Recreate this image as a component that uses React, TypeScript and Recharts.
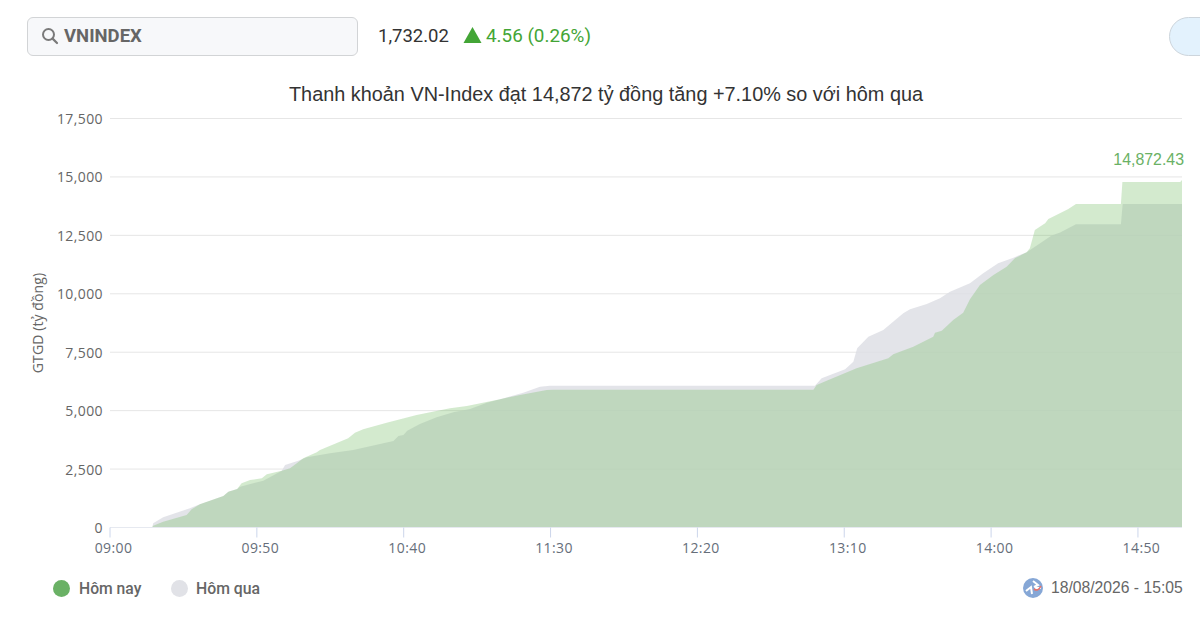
import React from "react";
import { ComposedChart, Area, XAxis, YAxis, CartesianGrid, ReferenceDot } from "recharts";

// minutes after 09:00
const todayMinutes = [14.5,18.1,26.1,27.8,30.6,38.6,40.3,43.3,44.8,47.7,51.7,53.4,58.5,61.3,63.6,65.8,70.4,71.5,81.1,83.4,86.2,94.2,104.4,109,115.8,121.5,132.8,139.6,148.7,151,239.5,240.6,244,254.2,265,266.7,273.5,280.3,280.9,283.2,287.1,290.5,292.8,296.2,300.8,305.3,308.1,312.1,313.2,314.9,318.4,319.5,326.3,328.9,344.2,344.7,364.4,365];
const todayValues = [64,248,535,779,993,1348,1532,1648,1892,2033,2106,2277,2431,2534,2748,2962,3219,3317,3818,4057,4203,4485,4815,4931,5102,5200,5487,5671,5885,5898,5898,6099,6283,6814,7242,7413,7738,8166,8337,8423,8881,9193,9767,10379,10807,11162,11522,11779,11950,12733,13020,13204,13632,13846,13846,14787,14787,14872.43];
const yesterdayMinutes = [14.5,14.7,18.1,27.2,30.6,38.6,40.3,43.3,44.3,52.2,58.5,59.6,64.1,67,74.9,82.8,96.5,98.2,99.9,101.2,105.5,111.2,116.9,122.6,128.3,132.8,140.7,146.4,149.8,240,242.3,250.3,253.1,254.4,258.2,263.3,270.1,272.4,278.1,282.6,286,292.8,297.3,302.4,307.6,312.1,316.7,320.6,323.5,328.9,344.2,344.8,365];
const yesterdayValues = [64,180,437,822,993,1348,1532,1648,1746,2003,2431,2675,2859,3005,3176,3317,3702,3916,3959,4143,4430,4717,4931,5072,5341,5487,5769,6026,6069,6069,6386,6771,7096,7670,8166,8453,9168,9339,9566,9810,10092,10452,10880,11308,11547,11779,12164,12489,12617,12977,12977,13846,13846];

const xTicks = [0,50,100,150,200,250,300,350];
const xTickLabels = ["09:00","09:50","10:40","11:30","12:20","13:10","14:00","14:50"];
const yTicks = [0,2500,5000,7500,10000,12500,15000,17500];

const title = "Thanh khoản VN-Index đạt 14,872 tỷ đồng tăng +7.10% so với hôm qua";
const lastLabel = "14,872.43";

const today = todayMinutes.map((t, i) => ({ t, v: todayValues[i] }));
const yesterday = yesterdayMinutes.map((t, i) => ({ t, v: yesterdayValues[i] }));

const GREEN = "#6ab165";
const helv = "'Liberation Sans', Arial, sans-serif";
const tickFont = "'Open Sans', sans-serif";
const abs = (s: React.CSSProperties): React.CSSProperties => ({ position: "absolute", whiteSpace: "nowrap", ...s });

export default function App() {
  return (
    <div style={{ position: "absolute", left: 0, top: 0, width: 1200, height: 620, background: "#fff", overflow: "hidden" }}>
      <div style={abs({ left: 27, top: 17, width: 329, height: 37, background: "#f7f8fa", border: "1px solid #d2d4d6", borderRadius: 6 })} />
      <svg style={abs({ left: 41, top: 27 })} width={18} height={18} viewBox="0 0 18 18">
        <circle cx={7.5} cy={7.5} r={5.5} fill="none" stroke="#7a7a7a" strokeWidth={2} />
        <line x1={11.6} y1={11.6} x2={16} y2={16} stroke="#7a7a7a" strokeWidth={2.2} strokeLinecap="round" />
      </svg>
      <div style={abs({ left: 64, top: 24, fontFamily: "Roboto, sans-serif", fontWeight: 700, fontSize: 18.5, lineHeight: "24px", color: "#666" })}>VNINDEX</div>
      <div style={abs({ left: 378, top: 24, fontFamily: "Roboto, sans-serif", fontSize: 18.5, lineHeight: "24px", color: "#333" })}>1,732.02</div>
      <svg style={abs({ left: 463, top: 27 })} width={19} height={16} viewBox="0 0 19 16">
        <polygon points="9.5,0 18.5,16 0.5,16" fill="#43a536" />
      </svg>
      <div style={abs({ left: 486, top: 24, fontFamily: "Roboto, sans-serif", fontSize: 18.85, lineHeight: "24px", color: "#43a536" })}>4.56 (0.26%)</div>
      <div style={abs({ left: 1169, top: 17, width: 80, height: 37, background: "#e3f2fd", border: "1px solid #cdd5dc", borderRadius: 20 })} />
      <div style={abs({ left: 0, width: 1212, top: 82, textAlign: "center", fontFamily: helv, fontSize: 19.87, lineHeight: "24px", color: "#333" })}>{title}</div>

      <div style={abs({ left: 0, top: 0 })}>
        <ComposedChart width={1200} height={620} margin={{ top: 118.5, right: 18, bottom: 0, left: 0 }}>
          <CartesianGrid vertical={false} stroke="#e6e6e6" strokeWidth={1} />
          <XAxis
            dataKey="t"
            type="number"
            scale="linear"
            domain={[0, 365]}
            ticks={xTicks}
            interval={0}
            height={92.5}
            tickFormatter={(v: number) => xTickLabels[xTicks.indexOf(v)]}
            stroke="#e6e9f0"
            tickLine={{ stroke: "#ccd6eb" }}
            tickSize={10}
            tickMargin={6}
            tick={{ fontFamily: tickFont, fontSize: 14, fill: "#666e7a", letterSpacing: 0.4, dx: 3.5 }}
            allowDuplicatedCategory={false}
          />
          <YAxis
            type="number"
            width={110}
            domain={[0, 17500]}
            ticks={yTicks}
            interval={0}
            axisLine={false}
            tickLine={false}
            tickMargin={1}
            tickFormatter={(v: number) => v.toLocaleString("en-US")}
            tick={{ fontFamily: tickFont, fontSize: 14, fill: "#666", letterSpacing: 0.4, dy: 0.5 }}
            label={{ value: "GTGD (tỷ đồng)", angle: -90, position: "insideLeft", offset: 38, style: { fontFamily: tickFont, fontSize: 14, fill: "#666", textAnchor: "middle", letterSpacing: 0.1 } }}
          />
          <Area data={yesterday} dataKey="v" name="Hôm qua" type="linear" stroke="none" fill="#dcdde3" fillOpacity={0.8} isAnimationActive={false} dot={false} activeDot={false} />
          <Area data={today} dataKey="v" name="Hôm nay" type="linear" stroke="none" fill="#6eb95d" fillOpacity={0.3} isAnimationActive={false} dot={false} activeDot={false} />
          <ReferenceDot
            x={todayMinutes[todayMinutes.length - 1]}
            y={todayValues[todayValues.length - 1]}
            r={0}
            stroke="none"
            fill="none"
            label={(p: any) => (
              <text x={p.viewBox.x + 2} y={p.viewBox.y - 15} textAnchor="end" fontFamily={helv} fontSize={15.9} fill={GREEN}>{lastLabel}</text>
            )}
          />
        </ComposedChart>
      </div>

      <div style={abs({ left: 53, top: 580, width: 17, height: 17, borderRadius: "50%", background: GREEN })} />
      <div style={abs({ left: 79, top: 579, fontFamily: "Roboto, sans-serif", fontWeight: 500, fontSize: 15.7, lineHeight: "20px", color: "#666" })}>Hôm nay</div>
      <div style={abs({ left: 171, top: 580, width: 17, height: 17, borderRadius: "50%", background: "#e1e2e7" })} />
      <div style={abs({ left: 196, top: 579, fontFamily: "Roboto, sans-serif", fontWeight: 500, fontSize: 15.8, lineHeight: "20px", color: "#666" })}>Hôm qua</div>
      <svg style={abs({ left: 1023, top: 578 })} width={20} height={20} viewBox="0 0 20 20">
        <circle cx={10} cy={10} r={10} fill="#86a7d6" />
        <path d="M10 3 L15 7 L11 9 M3 13 L8 9 L9 16 M12 10 L18 10" fill="none" stroke="#fff" strokeWidth={2} />
        <path d="M11 11 Q15 14 18 8" fill="none" stroke="#e8736b" strokeWidth={1.6} />
      </svg>
      <div style={abs({ left: 1051, top: 578, fontFamily: helv, fontSize: 15.7, lineHeight: "20px", color: "#666" })}>18/08/2026 - 15:05</div>
    </div>
  );
}
